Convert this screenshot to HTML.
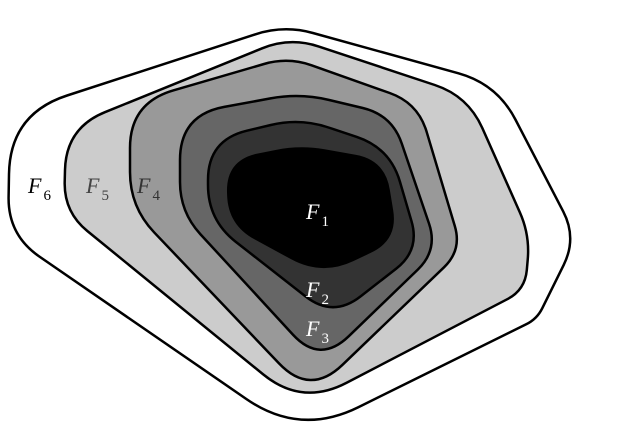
<!DOCTYPE html>
<html><head><meta charset="utf-8"><style>
html,body{margin:0;padding:0;background:#fff;}
svg{display:block;}
text{font-family:"Liberation Serif","DejaVu Serif",serif;}
</style></head><body>
<svg id="chart" width="622" height="444" viewBox="0 0 622 444" xmlns="http://www.w3.org/2000/svg"></svg>
<script>
const setNames = ["F6","F5","F4","F3","F2","F1"];
const setFills = ["#ffffff","#cccccc","#999999","#666666","#333333","#000000"];
const F6corners = [[10,114],[284,25],[497,84],[577,238],[537,319],[300,436],[8,235]];
const F6radii = [60,30,40,30,12,65,38];
const F5corners = [[66,128],[290,37],[468,96],[530,235],[525,290],[302,406],[64,212]];
const F5radii = [45,30,35,25,20,50,30];
const F4corners = [[130,103],[288,57],[418,103],[462,250],[310,396],[130,207]];
const F4radii = [45,25,30,25,45,35];
const F3corners = [[180,115],[300,93],[392,115],[438,250],[320,364],[180,212]];
const F3radii = [45,30,30,28,40,30];
const F2corners = [[208,140],[300,118],[390,148],[420,250],[333,318],[208,220]];
const F2radii = [40,30,35,30,35,35];
const F1corners = [[226,160],[300,145],[385,160],[398,240],[322,276],[228,225]];
const F1radii = [35,25,30,30,35,30];
const labelX = [28,86,137,306,306,306];
const labelY = [193,193,193,219,297,336];
const labelColors = ["#000","#444","#333","#fff","#fff","#fff"];
const labelSubs = ["6","5","4","1","2","3"];

const svg = document.getElementById('chart');
const NS = "http://www.w3.org/2000/svg";
function roundedPath(p, radii){
  const n=p.length; let d='';
  for(let i=0;i<n;i++){
    const prev=p[(i-1+n)%n], cur=p[i], next=p[(i+1)%n];
    const l1=Math.hypot(prev[0]-cur[0],prev[1]-cur[1]);
    const l2=Math.hypot(next[0]-cur[0],next[1]-cur[1]);
    const r=Math.min(radii[i],l1/2,l2/2);
    const a=[cur[0]+(prev[0]-cur[0])*r/l1, cur[1]+(prev[1]-cur[1])*r/l1];
    const b=[cur[0]+(next[0]-cur[0])*r/l2, cur[1]+(next[1]-cur[1])*r/l2];
    d += (i===0?'M':'L')+a[0].toFixed(1)+','+a[1].toFixed(1)+' Q'+cur[0]+','+cur[1]+' '+b[0].toFixed(1)+','+b[1].toFixed(1)+' ';
  }
  return d+'Z';
}
const shapes=[F6corners,F5corners,F4corners,F3corners,F2corners,F1corners];
const radiiList=[F6radii,F5radii,F4radii,F3radii,F2radii,F1radii];
shapes.forEach((pts,i)=>{
  const path=document.createElementNS(NS,'path');
  path.setAttribute('d',roundedPath(pts,radiiList[i]));
  path.setAttribute('fill',setFills[i]);
  path.setAttribute('stroke',i===5?'none':'#000');
  path.setAttribute('stroke-width','2.5');
  path.setAttribute('stroke-linejoin','round');
  
  
  svg.appendChild(path);
});
labelSubs.forEach((s,i)=>{
  const t=document.createElementNS(NS,'text');
  t.setAttribute('x',labelX[i]);
  t.setAttribute('y',labelY[i]);
  t.setAttribute('fill',labelColors[i]);
  t.setAttribute('font-size','22');
  t.setAttribute('font-style','italic');
  
  
  t.innerHTML='F<tspan font-size="15" font-style="normal" dx="2" dy="7">'+s+'</tspan>';
  svg.appendChild(t);
});
</script>
</body></html>
